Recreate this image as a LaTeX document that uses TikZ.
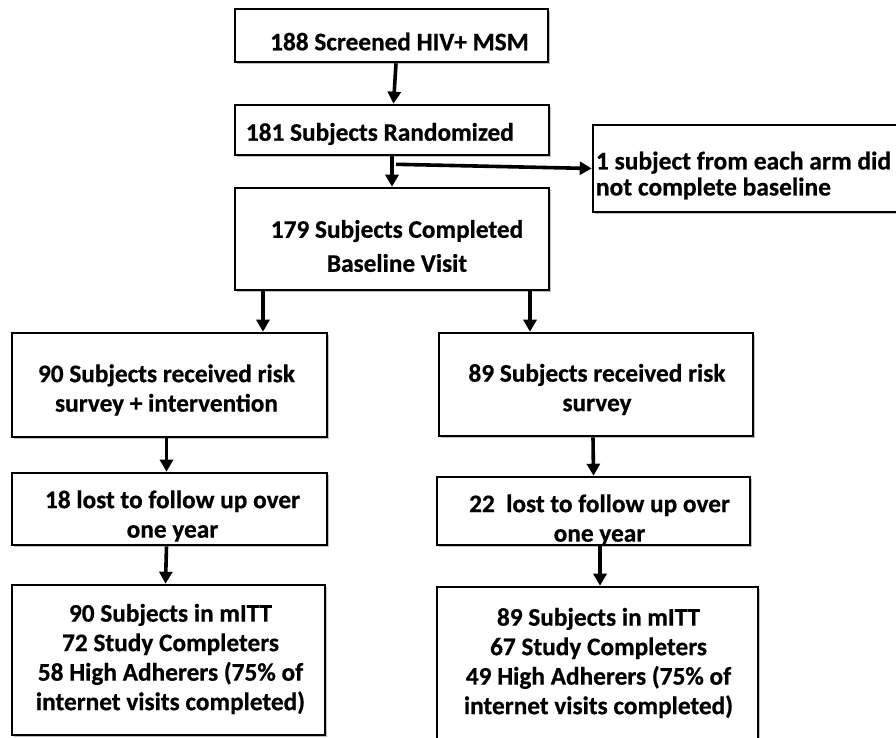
\documentclass[tikz,border=0pt]{standalone}
\usepackage{fontspec}
\setmainfont{Carlito}[BoldFeatures={FakeBold=0.6}]
\usetikzlibrary{arrows.meta,shadows,calc}
\begin{document}
\begin{tikzpicture}[x=1pt,y=-1pt,
  box/.style={draw=black, line width=2.6pt, fill=white, inner sep=0pt,
    drop shadow={shadow xshift=2pt, shadow yshift=-2pt, opacity=0.25, fill=black}},
  txt/.style={inner sep=0pt, align=center, font=\bfseries\fontsize{25.3}{29.5}\selectfont},
  arr/.style={line width=3.6pt, -{Triangle[length=12pt,width=13pt]}}]
\clip (0,0) rectangle (896,737);
\fill[white] (0,0) rectangle (896,737);
% boxes
\node[box, minimum width=313, minimum height=53] (A) at (391.5,35.5) {};
\node[box, minimum width=314, minimum height=50] (B) at (392,130) {};
\node[box, minimum width=330, minimum height=87] (D) at (758,168.5) {};
\node[box, minimum width=314, minimum height=102] (C) at (392,239) {};
\node[box, minimum width=315, minimum height=104] (E) at (169.5,385) {};
\node[box, minimum width=314, minimum height=103] (F) at (596,384.5) {};
\node[box, minimum width=315, minimum height=72] (G) at (169.5,509) {};
\node[box, minimum width=313, minimum height=68] (H) at (593.5,511) {};
\node[box, minimum width=313, minimum height=150] (I) at (168.5,660) {};
\node[box, minimum width=321, minimum height=158] (J) at (597.5,666) {};
% texts
\node[txt] (At) at ($(A.center)+(8,6)$) {188 Screened HIV+ MSM};
\node[txt, anchor=west] (Bt) at ($(B.west)+(12,4)$) {181 Subjects Randomized};
\node[txt, anchor=west, align=left, font=\bfseries\fontsize{25.5}{26}\selectfont] (Dt) at ($(D.west)+(4,7)$) {1 subject from each arm did\\not complete baseline};
\node[txt, font=\bfseries\fontsize{25.3}{34}\selectfont] (Ct) at ($(C.center)+(5,7)$) {179 Subjects Completed\\Baseline Visit};
\node[txt] (Et) at ($(E.center)+(-3,5)$) {90 Subjects received risk\\survey + intervention};
\node[txt] (Ft) at ($(F.center)+(1,5)$) {89 Subjects received risk\\survey};
\node[txt] (Gt) at ($(G.center)+(3,7)$) {18 lost to follow up over\\one year};
\node[txt] (Ht) at ($(H.center)+(6,9)$) {22~ lost to follow up over\\one year};
\node[txt] (It) at ($(I.center)+(2,-1)$) {90 Subjects in mITT\\72 Study Completers\\58 High Adherers (75\% of\\internet visits completed)};
\node[txt] (Jt) at ($(J.center)+(1,-3)$) {89 Subjects in mITT\\67 Study Completers\\49 High Adherers (75\% of\\internet visits completed)};
% connectors
\draw[arr] ([xshift=4.5]A.south) -- ([xshift=1.5]B.north);
\draw[arr] (B.south) -- (C.north);
\coordinate (br) at ($(B.south)+(4,8)$);
\draw[arr] (br) -- (D.west);
\draw[arr] ([xshift=-129]C.south) -- ([xshift=-129]C.south |- E.north);
\draw[arr] ([xshift=138]C.south) -- ([xshift=138]C.south |- F.north);
\draw[arr] ([xshift=-3]E.south) -- ([xshift=-3]G.north);
\draw[arr] ([xshift=-3]F.south) -- (H.north);
\draw[arr] ([xshift=-3]G.south) -- ([xshift=-3]I.north);
\draw[arr] ([xshift=6.5]H.south) -- ([xshift=2.5]J.north);
\end{tikzpicture}
\end{document}
